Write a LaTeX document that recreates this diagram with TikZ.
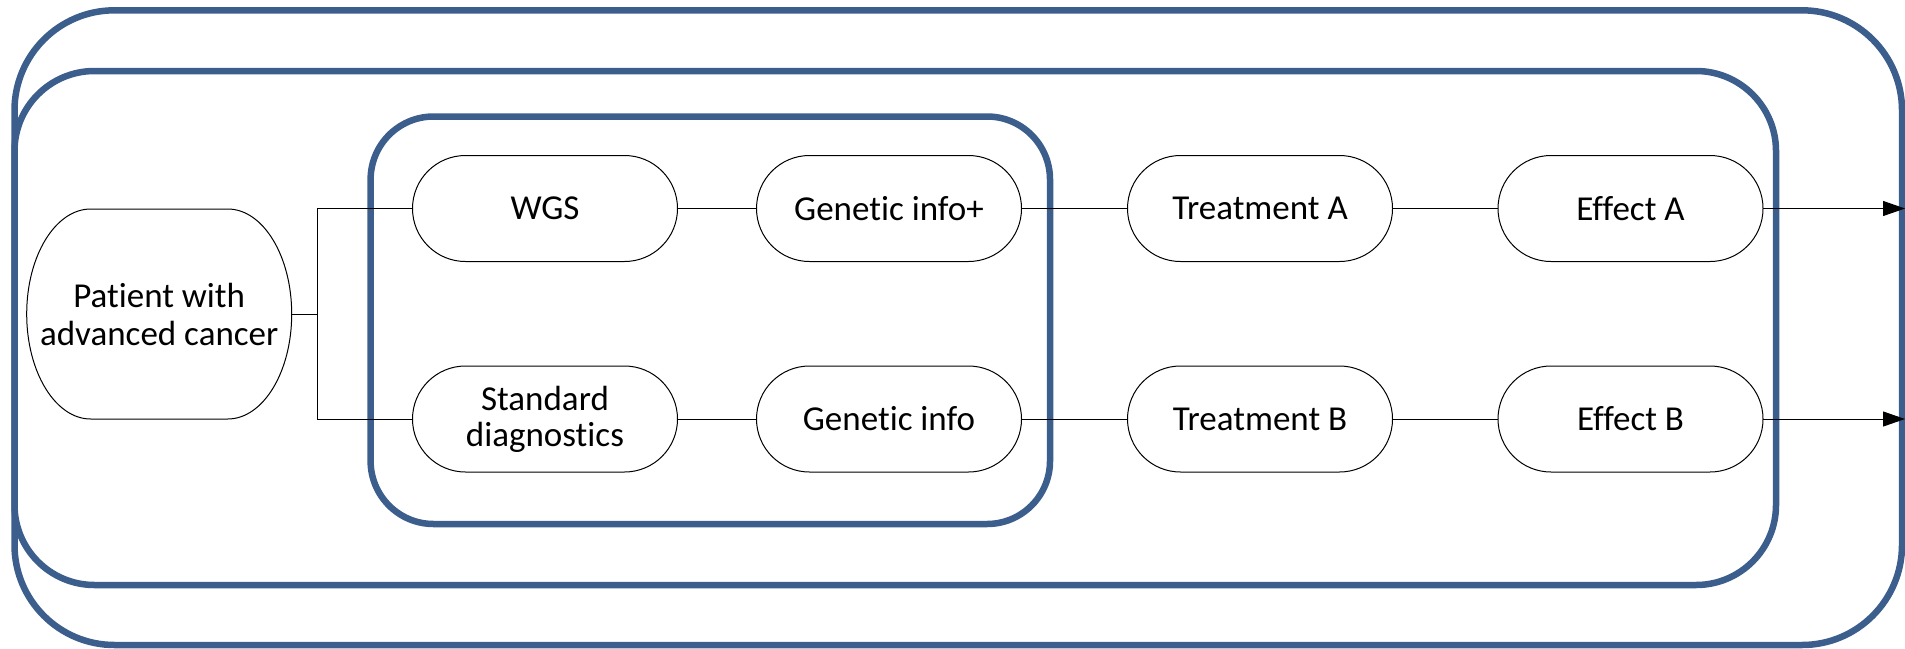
\documentclass[tikz,border=0pt]{standalone}
\usepackage{fontspec}
\setmainfont{Carlito}[RawFeature={-liga;-clig;-calt;-dlig}]
\usetikzlibrary{arrows.meta}
\definecolor{frameblue}{RGB}{59,94,140}
\tikzset{
  frame/.style={draw=frameblue, line width=6.5pt},
  thinline/.style={draw=black, line width=1pt},
  stadium/.style={draw=black, line width=1pt, fill=white, rounded corners=53pt,
    minimum width=265pt, minimum height=106pt, inner sep=0pt, outer sep=0pt,
    align=center, font=\fontsize{35}{36}\selectfont},
  flow/.style={thinline},
  outarrow/.style={thinline, -{Triangle[length=22pt,width=15pt]}}
}
\begin{document}
\begin{tikzpicture}[x=1pt, y=-1pt]
\useasboundingbox (0,0) rectangle (1905,648);

% nested frames
\draw[frame, rounded corners=100pt] (14.5,10.3) rectangle (1902,645);
\draw[frame, rounded corners=80pt] (14.5,71) rectangle (1776,585);
\draw[frame, rounded corners=63pt] (370.6,116.5) rectangle (1050,524);

% patient node with elliptical ends
\node[minimum width=265pt, minimum height=210pt, inner sep=0pt, outer sep=0pt,
      align=center, font=\fontsize{35}{38}\selectfont]
  (patient) at (159.2,314) {Patient with\\advanced cancer};
\draw[thinline] ([xshift=64pt]patient.north west) -- ([xshift=-64pt]patient.north east)
  arc[start angle=90, end angle=-90, x radius=64pt, y radius=105pt]
  -- ([xshift=64pt]patient.south west)
  arc[start angle=-90, end angle=-270, x radius=64pt, y radius=105pt] -- cycle;

% upper row
\node[stadium] (wgs)   at (545,208.5)   {WGS};
\node[stadium] (ginfop) at (889,208.5)  {Genetic info+};
\node[stadium] (trA)   at (1260,208.5)  {Treatment A};
\node[stadium] (effA)  at (1630.5,208.5) {Effect A};

% lower row
\node[stadium] (std)   at (545,419)     {Standard\\diagnostics};
\node[stadium] (ginfo) at (889,419)     {Genetic info};
\node[stadium] (trB)   at (1260,419)    {Treatment B};
\node[stadium] (effB)  at (1630.5,419)  {Effect B};

% branching from the patient
\coordinate (split) at (317,314);
\draw[flow] (patient.east) -- (split);
\draw[flow] (split) |- (wgs.west);
\draw[flow] (split) |- (std.west);

% chains
\draw[flow] (wgs) -- (ginfop);
\draw[flow] (ginfop) -- (trA);
\draw[flow] (trA) -- (effA);
\draw[flow] (std) -- (ginfo);
\draw[flow] (ginfo) -- (trB);
\draw[flow] (trB) -- (effB);

% outgoing arrows
\coordinate (outA) at (1905,208.5);
\coordinate (outB) at (1905,419);
\draw[outarrow] (effA.east) -- (outA);
\draw[outarrow] (effB.east) -- (outB);
\end{tikzpicture}
\end{document}
